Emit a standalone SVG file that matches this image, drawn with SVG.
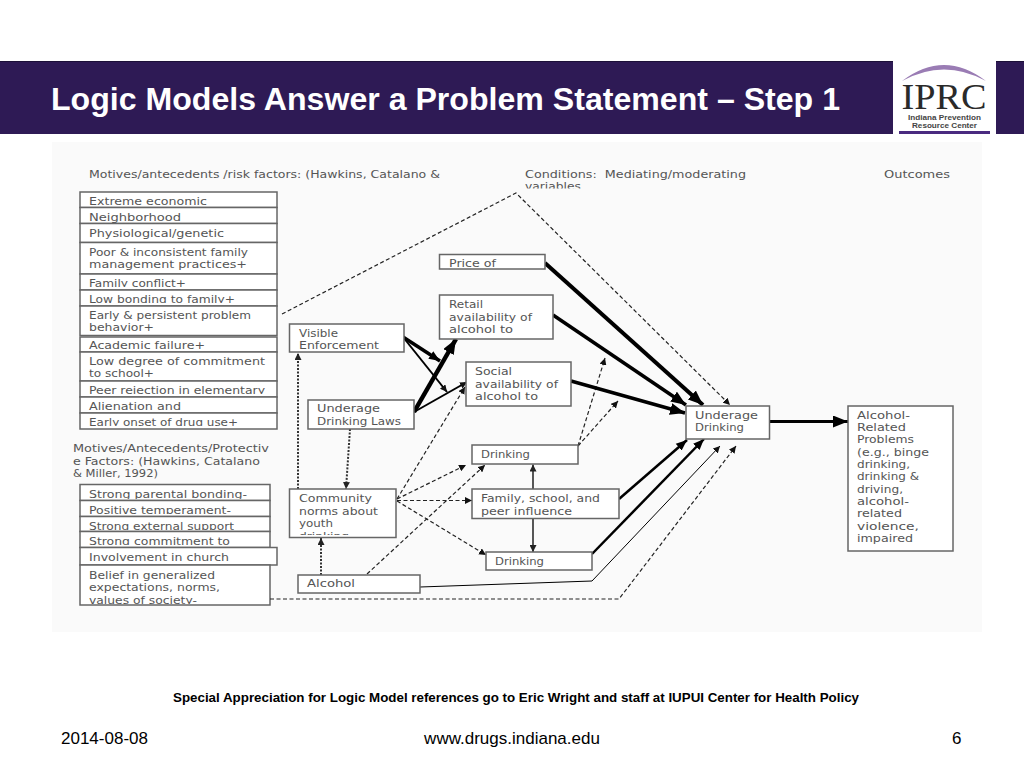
<svg xmlns="http://www.w3.org/2000/svg" width="1024" height="768" viewBox="0 0 1024 768">
<style>
.b{fill:#fff;stroke:#666;stroke-width:1.5}
.t{font-family:"DejaVu Sans",sans-serif;font-size:11px;fill:#555}
.hd{font-family:"Liberation Sans",Arial,sans-serif;font-weight:bold;fill:#000}
.ft{font-family:"Liberation Sans",Arial,sans-serif;font-size:17px;fill:#000}
.c{fill:none;stroke:#000}
.d{fill:none;stroke:#222;stroke-width:1.200;stroke-dasharray:4 2.500}
.o{fill:none;stroke:#333;stroke-width:2;stroke-dasharray:2 1.500}
.u{fill:none;stroke:#444;stroke-width:1.800}
</style>
<defs>
<marker id="mL" markerUnits="userSpaceOnUse" markerWidth="16" markerHeight="12" refX="15" refY="6" orient="auto"><path d="M0 0L15 6L0 12z" fill="#000"/></marker>
<marker id="mM" markerUnits="userSpaceOnUse" markerWidth="12" markerHeight="10" refX="11" refY="5" orient="auto"><path d="M0 0.500L11 5L0 9.500z" fill="#000"/></marker>
<marker id="mS" markerUnits="userSpaceOnUse" markerWidth="8" markerHeight="7" refX="7" refY="3.500" orient="auto"><path d="M0 0L7 3.500L0 7z" fill="#111"/></marker>
<marker id="mG" markerUnits="userSpaceOnUse" markerWidth="8" markerHeight="7" refX="7" refY="3.500" orient="auto"><path d="M0 0L7 3.500L0 7z" fill="#222"/></marker>
<clipPath id="cl1"><rect x="80" y="290" width="197" height="13"/></clipPath>
<clipPath id="cl2"><rect x="80" y="381" width="197" height="13"/></clipPath>
<clipPath id="cl3"><rect x="80" y="413" width="197" height="13"/></clipPath>
<clipPath id="cl4"><rect x="80" y="484" width="190" height="15"/></clipPath>
<clipPath id="cl5"><rect x="80" y="500" width="190" height="14"/></clipPath>
<clipPath id="cl6"><rect x="80" y="517" width="190" height="13"/></clipPath>
<clipPath id="cl7"><rect x="80" y="532" width="190" height="13"/></clipPath>
<clipPath id="cl8"><rect x="80" y="566" width="190" height="38"/></clipPath>
<clipPath id="cl9"><rect x="290" y="490" width="105" height="45"/></clipPath>
<clipPath id="cl10"><rect x="440" y="255" width="104" height="12"/></clipPath>
<clipPath id="cl11"><rect x="525" y="180" width="100" height="8.500"/></clipPath>
<clipPath id="cl12"><rect x="80" y="274" width="197" height="13"/></clipPath>
</defs>

<rect id="page" width="1024" height="768" fill="#fff"/>
<g id="header">
<rect x="0" y="61" width="1024" height="73" fill="#2e1a55"/>
<rect x="0" y="61" width="1024" height="1" fill="#1c1038"/>
<text class="hd" x="51" y="110" font-size="32" textLength="789" lengthAdjust="spacingAndGlyphs" style="fill:#fff">Logic Models Answer a Problem Statement – Step 1</text>
</g>
<g id="logo">
<rect x="893" y="58" width="103" height="78" fill="#fff"/>
<path d="M902 81Q944 49 986 81Q944 58 902 81z" fill="#9a7cb4"/>
<text x="944" y="109" text-anchor="middle" font-family="Liberation Serif,serif" font-size="36" fill="#2a2a2a" textLength="85" lengthAdjust="spacingAndGlyphs">IPRC</text>
<text x="944.500" y="120" text-anchor="middle" font-family="Liberation Sans,sans-serif" font-weight="bold" font-size="8" fill="#444" textLength="73" lengthAdjust="spacingAndGlyphs">Indiana Prevention</text>
<text x="944.500" y="128" text-anchor="middle" font-family="Liberation Sans,sans-serif" font-weight="bold" font-size="8" fill="#444" textLength="65" lengthAdjust="spacingAndGlyphs">Resource Center</text>
<rect x="899" y="131" width="91" height="3" fill="#4a2a80"/>
</g>
<rect id="figure" x="52" y="142" width="930" height="490" fill="#fafafa"/>

<g id="headings">
<text class="t" x="89" y="178" textLength="351" lengthAdjust="spacingAndGlyphs">Motives/antecedents /risk factors: (Hawkins, Catalano &amp;</text>
<text class="t" x="525" y="178" textLength="221" lengthAdjust="spacingAndGlyphs" xml:space="preserve">Conditions:  Mediating/moderating</text>
<text class="t" x="525" y="190" textLength="56" lengthAdjust="spacingAndGlyphs" clip-path="url(#cl11)">variables</text>
<text class="t" x="884" y="178" textLength="66" lengthAdjust="spacingAndGlyphs">Outcomes</text>
<text class="t" x="73" y="452" textLength="196" lengthAdjust="spacingAndGlyphs">Motives/Antecedents/Protectiv</text>
<text class="t" x="73" y="464.500" textLength="187" lengthAdjust="spacingAndGlyphs">e Factors: (Hawkins, Catalano</text>
<text class="t" x="73" y="477" textLength="85" lengthAdjust="spacingAndGlyphs">&amp; Miller, 1992)</text>
</g>

<g id="risk-factors">
<g id="r1"><rect class="b" x="80" y="192" width="197" height="15.500"/><text class="t" x="89" y="204.500" textLength="118" lengthAdjust="spacingAndGlyphs">Extreme economic</text></g>
<g id="r2"><rect class="b" x="80" y="207.500" width="197" height="16"/><text class="t" x="89" y="220.500" textLength="92" lengthAdjust="spacingAndGlyphs">Neighborhood</text></g>
<g id="r3"><rect class="b" x="80" y="223.500" width="197" height="19"/><text class="t" x="89" y="236.500" textLength="135" lengthAdjust="spacingAndGlyphs">Physiological/genetic</text></g>
<g id="r4"><rect class="b" x="80" y="242.500" width="197" height="31.500"/><text class="t" x="89" y="255.500" textLength="159" lengthAdjust="spacingAndGlyphs">Poor &amp; inconsistent family</text><text class="t" x="89" y="268" textLength="158" lengthAdjust="spacingAndGlyphs">management practices+</text></g>
<g id="r5"><rect class="b" x="80" y="274" width="197" height="16"/><text class="t" x="89" y="286.500" textLength="97" lengthAdjust="spacingAndGlyphs" clip-path="url(#cl12)">Family conflict+</text></g>
<g id="r6"><rect class="b" x="80" y="290" width="197" height="16"/><text class="t" x="89" y="302.500" textLength="146" lengthAdjust="spacingAndGlyphs" clip-path="url(#cl1)">Low bonding to family+</text></g>
<g id="r7"><rect class="b" x="80" y="306" width="197" height="29.500"/><text class="t" x="89" y="318.500" textLength="162" lengthAdjust="spacingAndGlyphs">Early &amp; persistent problem</text><text class="t" x="89" y="330.500" textLength="65" lengthAdjust="spacingAndGlyphs">behavior+</text></g>
<g id="r8"><rect class="b" x="80" y="337" width="197" height="15"/><text class="t" x="89" y="348.500" textLength="116" lengthAdjust="spacingAndGlyphs">Academic failure+</text></g>
<g id="r9"><rect class="b" x="80" y="352" width="197" height="29"/><text class="t" x="89" y="364.500" textLength="176" lengthAdjust="spacingAndGlyphs">Low degree of commitment</text><text class="t" x="89" y="377" textLength="65" lengthAdjust="spacingAndGlyphs">to school+</text></g>
<g id="r10"><rect class="b" x="80" y="381" width="197" height="16"/><text class="t" x="89" y="393.500" textLength="176" lengthAdjust="spacingAndGlyphs" clip-path="url(#cl2)">Peer rejection in elementary</text></g>
<g id="r11"><rect class="b" x="80" y="397" width="197" height="16"/><text class="t" x="89" y="409.500" textLength="92" lengthAdjust="spacingAndGlyphs">Alienation and</text></g>
<g id="r12"><rect class="b" x="80" y="413" width="197" height="16"/><text class="t" x="89" y="425.500" textLength="149" lengthAdjust="spacingAndGlyphs" clip-path="url(#cl3)">Early onset of drug use+</text></g>
</g>

<g id="protective-factors">
<g id="p1"><rect class="b" x="80" y="484.500" width="190" height="16"/><text class="t" x="89" y="498" textLength="158" lengthAdjust="spacingAndGlyphs" clip-path="url(#cl4)">Strong parental bonding-</text></g>
<g id="p2"><rect class="b" x="80" y="500.500" width="190" height="16"/><text class="t" x="89" y="513.500" textLength="142" lengthAdjust="spacingAndGlyphs" clip-path="url(#cl5)">Positive temperament-</text></g>
<g id="p3"><rect class="b" x="80" y="516.500" width="190" height="15"/><text class="t" x="89" y="529.500" textLength="145" lengthAdjust="spacingAndGlyphs" clip-path="url(#cl6)">Strong external support</text></g>
<g id="p4"><rect class="b" x="80" y="531.500" width="190" height="16"/><text class="t" x="89" y="544.500" textLength="141" lengthAdjust="spacingAndGlyphs" clip-path="url(#cl7)">Strong commitment to</text></g>
<g id="p5"><rect class="b" x="80" y="547.500" width="197" height="17.500"/><text class="t" x="89" y="560.500" textLength="140" lengthAdjust="spacingAndGlyphs">Involvement in church</text></g>
<g id="p6"><rect class="b" x="80" y="565" width="190" height="40"/><text class="t" x="89" y="578.500" textLength="126" lengthAdjust="spacingAndGlyphs">Belief in generalized</text><text class="t" x="89" y="591" textLength="131" lengthAdjust="spacingAndGlyphs">expectations, norms,</text><text class="t" x="89" y="603.500" textLength="108" lengthAdjust="spacingAndGlyphs" clip-path="url(#cl8)">values of society-</text></g>
</g>

<g id="connectors">
<path class="d" d="M282 314L516 193L730 405" marker-end="url(#mS)"/>
<path class="d" d="M270 599L619 599L736 446" marker-end="url(#mS)"/>
<path class="d" d="M397 499L465 387" marker-end="url(#mS)"/>
<path class="d" d="M397 499L466 465" marker-end="url(#mS)"/>
<path class="d" d="M397 500.500L472 500.500" marker-end="url(#mS)"/>
<path class="d" d="M397 501L486 555" marker-end="url(#mS)"/>
<path class="d" d="M367 574L485 465" marker-end="url(#mS)"/>
<path class="d" d="M578 446L605 358" marker-end="url(#mS)"/>
<path class="d" d="M578 446L618 401" marker-end="url(#mS)"/>
<path class="o" d="M298 489L298 353" marker-end="url(#mG)"/>
<path class="o" d="M350 429L346 489" marker-end="url(#mG)"/>
<path class="o" d="M321 575L321 538" marker-end="url(#mG)"/>
<path class="u" d="M533 489L533 464.500" marker-end="url(#mG)"/>
<path class="u" d="M533 518.500L533 552" marker-end="url(#mG)"/>
<path class="c" stroke-width="4" d="M545 263L703 405" marker-end="url(#mL)"/>
<path class="c" stroke-width="3.500" d="M553 315L686 405" marker-end="url(#mL)"/>
<path class="c" stroke-width="3.500" d="M571 381L685 413" marker-end="url(#mL)"/>
<path class="c" stroke-width="3.500" d="M403 337L440 361" marker-end="url(#mM)"/>
<path class="c" stroke-width="2" d="M403 337L447 392" marker-end="url(#mS)"/>
<path class="c" stroke-width="4.500" d="M414 412L456 339" marker-end="url(#mL)"/>
<path class="c" stroke-width="2" d="M414 412L467 382" marker-end="url(#mS)"/>
<path class="c" stroke-width="3" d="M770 421.500L848 421.500" marker-end="url(#mL)"/>
<path class="c" stroke-width="2.500" d="M619 499L687 440" marker-end="url(#mM)"/>
<path class="c" stroke-width="2.500" d="M592 554L704 439" marker-end="url(#mM)"/>
<path class="c" stroke-width="1" d="M420 587L592 581L720 446" marker-end="url(#mS)"/>
</g>

<g id="visible-enforcement"><rect class="b" x="289.500" y="324" width="114.500" height="28"/><text class="t" x="299" y="337" textLength="39" lengthAdjust="spacingAndGlyphs">Visible</text><text class="t" x="299" y="349" textLength="80" lengthAdjust="spacingAndGlyphs">Enforcement</text></g>
<g id="underage-drinking-laws"><rect class="b" x="308" y="400" width="106" height="29"/><text class="t" x="317" y="412" textLength="63" lengthAdjust="spacingAndGlyphs">Underage</text><text class="t" x="317" y="424.500" textLength="84" lengthAdjust="spacingAndGlyphs">Drinking Laws</text></g>
<g id="community-norms"><rect class="b" x="289.500" y="489" width="106.500" height="48.500"/><g clip-path="url(#cl9)"><text class="t" x="299" y="502" textLength="73" lengthAdjust="spacingAndGlyphs">Community</text><text class="t" x="299" y="514.500" textLength="79" lengthAdjust="spacingAndGlyphs">norms about</text><text class="t" x="299" y="527" textLength="34" lengthAdjust="spacingAndGlyphs">youth</text><text class="t" x="299" y="539.500" textLength="50" lengthAdjust="spacingAndGlyphs">drinking</text></g></g>
<g id="alcohol"><rect class="b" x="298" y="575" width="122" height="18"/><text class="t" x="307" y="587" textLength="48" lengthAdjust="spacingAndGlyphs">Alcohol</text></g>
<g id="price"><rect class="b" x="439.500" y="254.500" width="105.500" height="14.500"/><text class="t" x="449" y="267" textLength="47" lengthAdjust="spacingAndGlyphs" clip-path="url(#cl10)">Price of</text></g>
<g id="retail"><rect class="b" x="439.500" y="295" width="113.500" height="44"/><text class="t" x="449" y="308" textLength="34" lengthAdjust="spacingAndGlyphs">Retail</text><text class="t" x="449" y="320.500" textLength="83" lengthAdjust="spacingAndGlyphs">availability of</text><text class="t" x="449" y="333" textLength="64" lengthAdjust="spacingAndGlyphs">alcohol to</text></g>
<g id="social"><rect class="b" x="466" y="362" width="105" height="44"/><text class="t" x="475" y="375" textLength="37" lengthAdjust="spacingAndGlyphs">Social</text><text class="t" x="475" y="387.500" textLength="83" lengthAdjust="spacingAndGlyphs">availability of</text><text class="t" x="475" y="400" textLength="63" lengthAdjust="spacingAndGlyphs">alcohol to</text></g>
<g id="drinking-top"><rect class="b" x="472" y="445" width="106" height="19"/><text class="t" x="481" y="457.500" textLength="49" lengthAdjust="spacingAndGlyphs">Drinking</text></g>
<g id="family"><rect class="b" x="472" y="489" width="147" height="29.500"/><text class="t" x="481" y="502" textLength="119" lengthAdjust="spacingAndGlyphs">Family, school, and</text><text class="t" x="481" y="514.500" textLength="91" lengthAdjust="spacingAndGlyphs">peer influence</text></g>
<g id="drinking-bottom"><rect class="b" x="486" y="552" width="106" height="18"/><text class="t" x="495" y="564.500" textLength="49" lengthAdjust="spacingAndGlyphs">Drinking</text></g>
<g id="underage-drinking"><rect class="b" x="686" y="406" width="83.500" height="33"/><text class="t" x="695" y="418.500" textLength="63" lengthAdjust="spacingAndGlyphs">Underage</text><text class="t" x="695" y="431" textLength="49" lengthAdjust="spacingAndGlyphs">Drinking</text></g>
<g id="alcohol-problems"><rect class="b" x="848" y="406" width="105" height="145"/>
<text class="t" x="857" y="418.500" textLength="53" lengthAdjust="spacingAndGlyphs">Alcohol-</text>
<text class="t" x="857" y="431" textLength="49" lengthAdjust="spacingAndGlyphs">Related</text>
<text class="t" x="857" y="443" textLength="57" lengthAdjust="spacingAndGlyphs">Problems</text>
<text class="t" x="857" y="455.500" textLength="72" lengthAdjust="spacingAndGlyphs">(e.g., binge</text>
<text class="t" x="857" y="468" textLength="53" lengthAdjust="spacingAndGlyphs">drinking,</text>
<text class="t" x="857" y="480" textLength="62" lengthAdjust="spacingAndGlyphs">drinking &amp;</text>
<text class="t" x="857" y="492.500" textLength="46" lengthAdjust="spacingAndGlyphs">driving,</text>
<text class="t" x="857" y="505" textLength="52" lengthAdjust="spacingAndGlyphs">alcohol-</text>
<text class="t" x="857" y="517" textLength="45" lengthAdjust="spacingAndGlyphs">related</text>
<text class="t" x="857" y="529.500" textLength="62" lengthAdjust="spacingAndGlyphs">violence,</text>
<text class="t" x="857" y="542" textLength="56" lengthAdjust="spacingAndGlyphs">impaired</text>
</g>

<g id="footer">
<text class="hd" x="516" y="702" font-size="12" text-anchor="middle" textLength="686" lengthAdjust="spacingAndGlyphs">Special Appreciation for Logic Model references go to Eric Wright and staff at IUPUI Center for Health Policy</text>
<text class="ft" x="61" y="744">2014-08-08</text>
<text class="ft" x="512" y="744" text-anchor="middle">www.drugs.indiana.edu</text>
<text class="ft" x="952" y="744">6</text>
</g>
</svg>
